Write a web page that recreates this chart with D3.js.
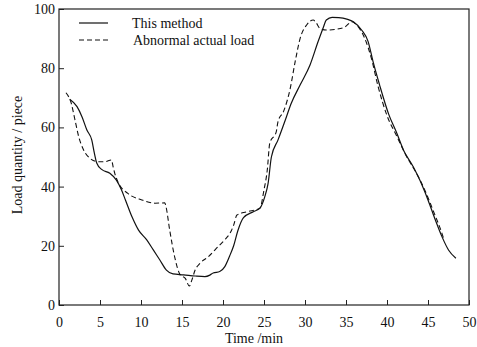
<!DOCTYPE html>
<html>
<head>
<meta charset="utf-8">
<script src="https://cdn.jsdelivr.net/npm/d3@7"></script>
<style>
  body { margin: 0; background: #fff; }
  svg { display: block; font-family: "Liberation Serif", "DejaVu Serif", serif; }
</style>
</head>
<body>
<div id="chart"></div>
<script>
// Time (min) and load values
const methodTime = [1.3, 2.2, 2.8, 3.4, 4.0, 4.3, 4.6, 5.2, 6.2, 7.0, 7.6, 8.1, 8.9, 9.7, 10.7, 11.5, 12.3, 13.1, 13.9,
  15.2, 16.6, 17.8, 18.4, 18.8, 19.6, 20.2, 20.8, 21.3, 21.8, 22.5, 23.7, 24.5, 25.1, 25.5, 25.9, 26.7, 27.6, 28.3,
  29.4, 30.6, 31.6, 32.2, 32.6, 33.3, 34.1, 35.1, 35.9, 36.9, 37.7, 38.3, 39.1, 40.2, 41.2, 42.0, 43.2, 44.0, 45.0,
  45.9, 46.7, 47.5, 48.4];
const methodLoad = [69.5, 67, 63.6, 59.1, 55.7, 51.5, 48, 45.8, 44.5, 42.2, 39, 35.5, 29.8, 25.3, 22, 18.6, 15.2, 11.8, 10.5,
  10.2, 9.8, 9.6, 10.1, 10.8, 11.3, 12.9, 16.5, 20, 25, 29.5, 31.5, 32.7, 36.6, 41.1, 50, 55.7, 62.5, 68,
  74.3, 81, 89, 93.5, 96.3, 97.2, 97.1, 96.6, 95.7, 92.9, 89, 82.2, 74.3, 64.5, 58, 52.4, 46.7, 42.2, 35.5,
  28.7, 23.1, 18.6, 15.8];

const actualTime = [0.85, 1.5, 1.95, 2.4, 3.0, 3.8, 4.8, 5.6, 6.4, 6.6, 6.8, 7.2, 8.4, 10.1, 11.7, 12.9, 13.05, 13.5, 14.1,
  14.8, 15.4, 15.9, 16.2, 16.6, 17.2, 18.2, 19.4, 20.2, 21.0, 21.3, 21.7, 22.9, 24.5, 25.0, 25.4, 25.7, 26.5, 26.7,
  27.4, 28.2, 28.8, 29.4, 30.2, 31.0, 31.4, 31.8, 32.6, 33.9, 34.9, 35.7, 36.3, 37.3, 38.1, 38.9, 40.0, 41.2, 42.4,
  43.6, 44.6, 45.6, 46.7, 46.9];
const actualLoad = [71.7, 68.1, 62.5, 56.9, 52.4, 49.5, 48.4, 48.4, 49, 46.7, 44.5, 41.5, 37.7, 35.5, 34.4, 34.5, 33.2, 25.3, 16.3,
  10.1, 9, 6.4, 8.4, 11.8, 14.1, 16.3, 19.7, 22, 25, 27, 30.4, 31.5, 32.7, 38.9, 45.6, 54.6, 58.6, 61.9,
  65.5, 73.2, 82.2, 90, 94.6, 96.3, 95.2, 93.5, 92.9, 93.2, 94, 95.7, 94.6, 90, 83.3, 74, 64, 57, 50.1,
  44.5, 38.9, 32.1, 24.2, 22.5];

const xTicks = [0, 5, 10, 15, 20, 25, 30, 35, 40, 45, 50];
const yTicks = [0, 20, 40, 60, 80, 100];
const seriesNames = ["This method", "Abnormal actual load"];

const W = 477, H = 347;
const margin = {top: 9, right: 8, bottom: 42, left: 59};

const svg = d3.select("#chart").append("svg")
  .attr("width", W)
  .attr("height", H);

const x = d3.scaleLinear().domain([0, 50]).range([margin.left, W - margin.right]);
const y = d3.scaleLinear().domain([0, 100]).range([H - margin.bottom, margin.top]);

// frame
svg.append("rect")
  .attr("x", x(0)).attr("y", y(100))
  .attr("width", x(50) - x(0)).attr("height", y(0) - y(100))
  .attr("fill", "none").attr("stroke", "#222").attr("stroke-width", 1.2);

// axes with inward ticks
const xAxis = svg.append("g")
  .attr("transform", `translate(0,${y(0)})`)
  .call(d3.axisBottom(x).tickValues(xTicks).tickSizeInner(-5).tickSizeOuter(0).tickPadding(12));
const yAxis = svg.append("g")
  .attr("transform", `translate(${x(0)},0)`)
  .call(d3.axisLeft(y).tickValues(yTicks).tickSizeInner(-5).tickSizeOuter(0).tickPadding(4));

[xAxis, yAxis].forEach(g => {
  g.select(".domain").remove();
  g.selectAll("line").attr("stroke", "#222");
  g.selectAll("text").attr("fill", "#111").style("font-size", "14px")
    .style("font-family", "'Liberation Serif', serif");
});

const line = d3.line()
  .x(d => x(d[0]))
  .y(d => y(d[1]))
  .curve(d3.curveMonotoneX);

svg.append("path")
  .datum(methodTime.map((t, i) => [t, methodLoad[i]]))
  .attr("d", line)
  .attr("fill", "none").attr("stroke", "#111").attr("stroke-width", 1.2);

svg.append("path")
  .datum(actualTime.map((t, i) => [t, actualLoad[i]]))
  .attr("d", line)
  .attr("fill", "none").attr("stroke", "#111").attr("stroke-width", 1.1)
  .attr("stroke-dasharray", "5,3");

// legend
const legend = svg.append("g");
seriesNames.forEach((name, i) => {
  const ly = 23 + i * 17;
  legend.append("line")
    .attr("x1", 79).attr("x2", 108).attr("y1", ly).attr("y2", ly)
    .attr("stroke", "#111").attr("stroke-width", 1.2)
    .attr("stroke-dasharray", i === 1 ? "5,3" : null);
  legend.append("text")
    .attr("x", 132 + i).attr("y", ly + 5)
    .style("font-size", "14px").attr("fill", "#111")
    .text(name);
});

// axis titles
svg.append("text")
  .attr("x", 254).attr("y", 343)
  .attr("text-anchor", "middle")
  .style("font-size", "14px").attr("fill", "#111")
  .text("Time /min");

svg.append("text")
  .attr("transform", "rotate(-90)")
  .attr("x", -155).attr("y", 22)
  .attr("text-anchor", "middle")
  .style("font-size", "14px").attr("fill", "#111")
  .text("Load quantity / piece");
</script>
</body>
</html>
